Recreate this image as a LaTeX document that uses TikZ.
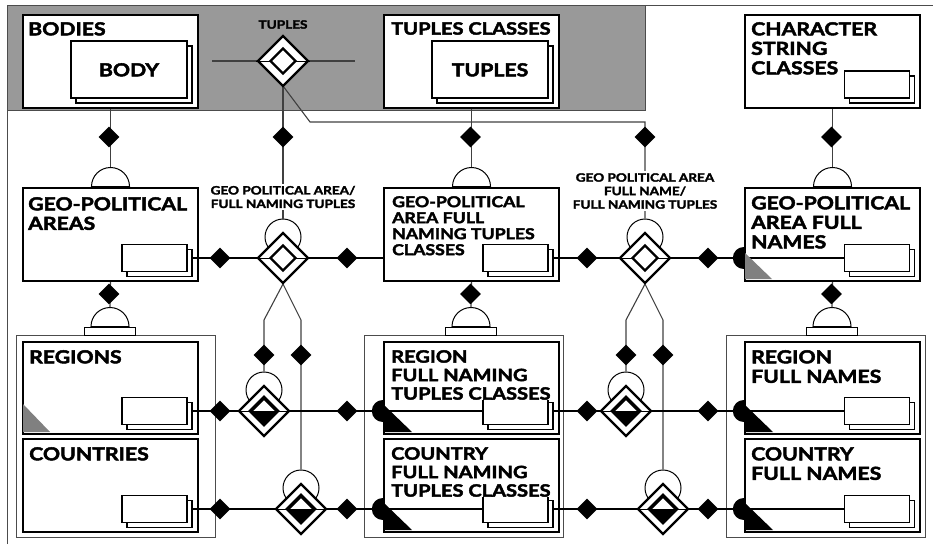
\documentclass[tikz,border=0pt]{standalone}
\usepackage{fontspec}
\setmainfont{Lato}[FakeStretch=1.18,BoldFeatures={FakeBold=2.5}]
\usetikzlibrary{shapes.geometric,calc}

\tikzset{
  ent/.style={draw,line width=2pt,fill=white,inner sep=0,anchor=north west},
  grp/.style={draw=black!70,line width=0.8pt,inner sep=0,anchor=north west},
  cardfront/.style={draw,line width=1.8pt,fill=white,minimum width=65pt,minimum height=27pt,inner sep=0},
  cardback/.style={draw,line width=1.4pt,fill=white,minimum width=65pt,minimum height=27pt,inner sep=0},
  dia/.style={diamond,fill=black,minimum width=21pt,minimum height=21pt,inner sep=0},
  reldia/.style={diamond,draw,line width=2.4pt,fill=white,minimum width=51pt,minimum height=51pt,inner sep=0},
  relin/.style={diamond,draw,line width=2.4pt,fill=white,minimum width=26pt,minimum height=26pt,inner sep=0},
  con/.style={black!75,line width=1.1pt},
  arcup/.style={semicircle,draw,line width=1pt,fill=white,minimum width=38pt,minimum height=19pt,inner sep=0,anchor=chord center},
  halfdisc/.style={semicircle,fill=black,shape border rotate=90,minimum width=22pt,minimum height=11pt,inner sep=0,anchor=chord center},
  bigt/.style={anchor=north west,inner sep=0,align=left,font=\fontsize{18}{19.5}\selectfont\bfseries},
  midt/.style={anchor=north west,inner sep=0,align=left,font=\fontsize{15}{16}\selectfont\bfseries},
  smallt/.style={inner sep=2pt,align=center,font=\fontsize{11.5}{13.5}\selectfont\bfseries}
}
% relationship symbol: outer diamond, line through, inner diamond
\newcommand\rel[2]{\node[reldia] (#1) at (#2) {};
  \draw[line width=1pt] (#1.west) -- (#1.east);
  \node[relin] (#1i) at (#2) {};}
\newcommand\relh[2]{\rel{#1}{#2}
  \fill (#1i.west) -- (#1i.east) -- (#1i.south) -- cycle;
  \draw[line width=2.4pt] (#1i.north) -- (#1i.east) -- (#1i.south) -- (#1i.west) -- cycle;}

\begin{document}
\begin{tikzpicture}[x=1pt,y=-1pt]
  \useasboundingbox (0,0) rectangle (933,544);
  % shaded part and frame
  \fill[black!40] (7,5) rectangle (645,110);
  \draw[black!70] (7,110) -- (645,110) -- (645,5);
  \draw[black!70,line width=0.8pt] (7,544) -- (7,5) -- (933,5);

  % groups of subtypes
  \foreach \n/\x in {g1/16,g2/364,g3/726}{
    \node[grp,fill=white,minimum width=199pt,minimum height=202pt] (\n) at (\x,335) {}; }
  \foreach \n/\x in {g1s/84,g2s/445,g3s/806}{
    \node[grp,draw=black,line width=1pt,fill=white,minimum width=51pt,minimum height=8pt] (\n) at (\x,327) {};
    \node[arcup] (\n c) at (\n.north) {}; }

  % entity boxes
  \foreach \n/\x/\y/\h in {bodies/22/14/93,tupcls/383/14/93,chrcls/744/14/93,
      gpa/22/187/93,gpatc/383/187/93,gpafn/744/187/93,
      regions/22/341/92,countries/22/438/93,rfntc/383/341/92,cfntc/383/438/93,
      rfn/744/341/92,cfn/744/438/93}{
    \node[ent,minimum width=175pt,minimum height=\h pt] (\n) at (\x,\y) {}; }
  \foreach \n in {gpa,gpatc,gpafn}{ \node[arcup] (\n c) at (\n.north) {}; }

  % connectors
  \coordinate (tl) at (212,61);
  \coordinate (tr) at (355,61);
  \coordinate (bend1) at (310,122);
  \coordinate (bend2) at (645,122);
  \coordinate (r1a) at (264,320);
  \coordinate (r1b) at (301,320);
  \coordinate (r2a) at (626,320);
  \coordinate (r2b) at (663,320);
  \node[circle,draw,line width=1pt,fill=white,minimum size=36pt,inner sep=0] (r1c) at (283,237) {};
  \node[circle,draw,line width=1pt,fill=white,minimum size=36pt,inner sep=0] (r2c) at (645,237) {};
  \node[circle,draw,line width=1pt,fill=white,minimum size=36pt,inner sep=0] (r3c) at (264,390) {};
  \node[circle,draw,line width=1pt,fill=white,minimum size=36pt,inner sep=0] (r4c) at (301,488) {};
  \node[circle,draw,line width=1pt,fill=white,minimum size=36pt,inner sep=0] (r5c) at (626,390) {};
  \node[circle,draw,line width=1pt,fill=white,minimum size=36pt,inner sep=0] (r6c) at (663,488) {};
  \draw[con] (tl) -- (tr);
  \draw[con] (bodies.south) -- (gpac.north);
  \draw[con] (tupcls.south) -- (gpatcc.north);
  \draw[con] (chrcls.south) -- (gpafnc.north);
  \draw[con] (gpa.south) -- (g1sc.north);
  \draw[con] (gpatc.south) -- (g2sc.north);
  \draw[con] (gpafn.south) -- (g3sc.north);
  \draw[con] (283,86) -- (r1c.north);
  \draw[con] (283,86) -- (bend1) -- (bend2) -- (r2c.north);
  \draw[con] (283,284) -- (r1a) -- (r3c.north);
  \draw[con] (283,284) -- (r1b) -- (r4c.north);
  \draw[con] (645,284) -- (r2a) -- (r5c.north);
  \draw[con] (645,284) -- (r2b) -- (r6c.north);
  \draw[con,black] (154,258) -- (383,258);
  \draw[con,black] (515,258) -- (877,258);
  \draw[con,black] (154,411) -- (515,411) -- (877,411);
  \draw[con,black] (154,509) -- (515,509) -- (877,509);

  % cards
  \foreach \n/\x/\y in {gpak/154.5/258,gpatck/515.5/258,gpafnk/877/258,chrk/877/84.5,
      regk/154.5/411,couk/154.5/509,rfntck/515.5/411,cfntck/515.5/509,rfnk/877/411,cfnk/877/509}{
    \node[cardback] at (\x+5,\y+5) {};
    \node[cardfront] (\n) at (\x,\y) {}; }
  \foreach \n/\x in {bodyk/129,tuplk/490}{
    \node[cardback,minimum width=116pt,minimum height=57pt] at (\x+5,74.5) {};
    \node[cardfront,minimum width=116pt,minimum height=57pt] (\n) at (\x,69.5) {}; }

  % corner marks
  \fill[black!50] (745,253) -- (745,279) -- (772,279) -- cycle;
  \fill[black!50] (23,404) -- (23,432) -- (50,432) -- cycle;
  \foreach \x/\y in {384/432,384/530,745/432,745/530}{
    \fill (\x,\y-27) -- (\x,\y) -- (\x+28,\y) -- cycle; }
  \foreach \n/\x/\y in {hd1/744/258,hd2/383/411,hd3/383/509,hd4/744/411,hd5/744/509}{
    \node[halfdisc] (\n) at (\x,\y) {}; }

  % relationships
  \rel{tup}{283,61}
  \rel{r1}{283,258}
  \rel{r2}{645,258}
  \relh{r3}{264,411}
  \relh{r4}{301,509}
  \relh{r5}{626,411}
  \relh{r6}{663,509}
  \foreach \x/\y [count=\i] in {109/137,283/137,470.5/137,645/137,831.5/137,
      109/294,470.5/294,831.5/294,220/258,347/258,587/258,708/258,
      264/355,301/355,626/355,663/355,220/411,347/411,587/411,708/411,
      220/509,347/509,587/509,708/509}{
    \node[dia] (d\i) at (\x,\y) {}; }

  % texts
  \node[smallt] (tupt) at (283,24.5) {TUPLES};
  \node[smallt,fill=white] (r1t) at (283,197) {GEO POLITICAL AREA/\\FULL NAMING TUPLES};
  \node[smallt,fill=white] (r2t) at (645,191) {GEO POLITICAL AREA\\FULL NAME/\\FULL NAMING TUPLES};
  \node[bigt] (bodiest) at (28,22) {BODIES};
  \node[bigt,anchor=north] (bodyt) at (129,63) {BODY};
  \node[bigt,font=\fontsize{17}{18.5}\selectfont\bfseries] (tupclst) at (391,22) {TUPLES CLASSES};
  \node[bigt,anchor=north] (tuplt) at (490,63) {TUPLES};
  \node[bigt] (chrclst) at (751,22) {CHARACTER\\STRING\\CLASSES};
  \node[bigt] (gpat) at (28,197) {GEO-POLITICAL\\AREAS};
  \node[midt] (gpatct) at (392,196) {GEO-POLITICAL\\AREA FULL\\NAMING TUPLES\\CLASSES};
  \node[bigt] (gpafnt) at (751,196) {GEO-POLITICAL\\AREA FULL\\NAMES};
  \node[bigt] (regionst) at (29,350) {REGIONS};
  \node[bigt] (countriest) at (29,447) {COUNTRIES};
  \node[bigt,fill=white,font=\fontsize{17}{18.5}\selectfont\bfseries] (rfntct) at (391,350) {REGION\\FULL NAMING\\TUPLES CLASSES};
  \node[bigt,fill=white,font=\fontsize{17}{18.5}\selectfont\bfseries] (cfntct) at (391,447) {COUNTRY\\FULL NAMING\\TUPLES CLASSES};
  \node[bigt] (rfnt) at (751,350) {REGION\\FULL NAMES};
  \node[bigt] (cfnt) at (751,447) {COUNTRY\\FULL NAMES};
\end{tikzpicture}
\end{document}
